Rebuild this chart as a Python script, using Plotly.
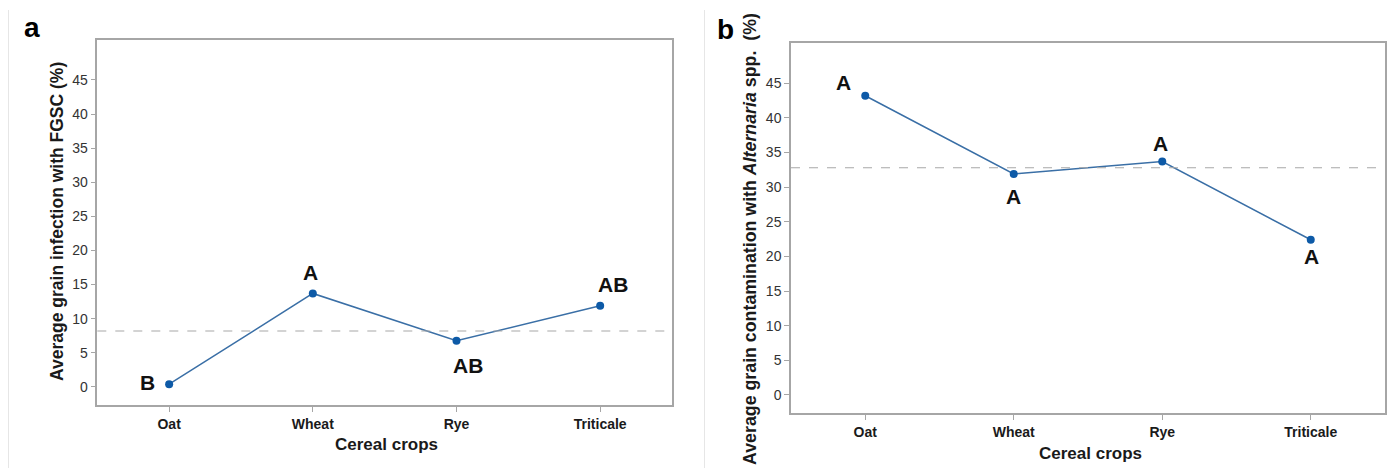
import numpy as np
import plotly.graph_objects as go
from plotly.subplots import make_subplots

crops = ["Oat", "Wheat", "Rye", "Triticale"]
fgsc = [0.4, 13.7, 6.75, 11.9]
fgsc_letters = ["B", "A", "AB", "AB"]
alternaria = [43.2, 31.9, 33.7, 22.4]
alternaria_letters = ["A", "A", "A", "A"]
y_ticks = [0, 5, 10, 15, 20, 25, 30, 35, 40, 45]

W, H = 1391, 468
FONT = "Liberation Sans, Arial, sans-serif"
LINE_C = "#3a6fa6"
MARK_C = "#0d5aa7"
AXIS_C = "#a6a6a6"

fig = make_subplots(rows=1, cols=2)

def px_x(p):
    return p / W

def px_y(p):
    return 1 - p / H

domains = {
    1: dict(x=[px_x(97.3), px_x(672)], y=[px_y(405), px_y(40)]),
    2: dict(x=[px_x(791), px_x(1385)], y=[px_y(413.3), px_y(42.7)]),
}

for col, vals in [(1, fgsc), (2, alternaria)]:
    fig.add_trace(
        go.Scatter(
            x=list(range(len(crops))), y=vals, mode="lines+markers",
            line=dict(color=LINE_C, width=1.5),
            marker=dict(color=MARK_C, size=8),
            showlegend=False, hoverinfo="skip",
        ),
        row=1, col=col,
    )
    # grand mean reference line
    m = float(np.mean(vals))
    xr = "x" if col == 1 else "x2"
    yr = "y" if col == 1 else "y2"
    fig.add_shape(type="line", xref=f"{xr} domain", yref=yr, x0=0, x1=1, y0=m, y1=m,
                  line=dict(color="#a8a8a8", width=1.2, dash="dash"))

axis_common = dict(
    showline=True, linecolor=AXIS_C, linewidth=1.5, mirror=True,
    ticks="outside", tickcolor=AXIS_C, ticklen=5, tickwidth=1,
    showgrid=False, zeroline=False,
)

for col in (1, 2):
    fig.update_xaxes(
        **axis_common,
        domain=domains[col]["x"],
        range=[-0.5, 3.5],
        tickmode="array", tickvals=list(range(len(crops))), ticktext=crops,
        tickfont=dict(family=FONT, size=14, color="#1a1a1a", weight="bold"),
        row=1, col=col,
    )
    fig.update_yaxes(
        **axis_common,
        domain=domains[col]["y"],
        range=[-2.66, 50.86],
        tickmode="array", tickvals=y_ticks,
        tickfont=dict(family=FONT, size=14, color="#333333"),
        row=1, col=col,
    )

annotations = []

# significance letters (offsets in pixels from each data point)
off_a = [(-22, 2), (-2, 21), (12, -25), (13, 21)]
off_b = [(-22, 13), (0, -23), (-2, 18), (1, -17)]
for i, (v, lab) in enumerate(zip(fgsc, fgsc_letters)):
    annotations.append(dict(x=i, y=v, xref="x", yref="y", text=f"<b>{lab}</b>", showarrow=False,
                            xshift=off_a[i][0], yshift=off_a[i][1],
                            font=dict(family=FONT, size=21, color="#111111")))
for i, (v, lab) in enumerate(zip(alternaria, alternaria_letters)):
    annotations.append(dict(x=i, y=v, xref="x2", yref="y2", text=f"<b>{lab}</b>", showarrow=False,
                            xshift=off_b[i][0], yshift=off_b[i][1],
                            font=dict(family=FONT, size=21, color="#111111")))

# panel letters
annotations.append(dict(x=px_x(31.5), y=px_y(27), xref="paper", yref="paper", text="<b>a</b>",
                        showarrow=False, font=dict(family=FONT, size=28, color="#000000"),
                        xanchor="center", yanchor="middle"))
annotations.append(dict(x=px_x(725), y=px_y(29), xref="paper", yref="paper", text="<b>b</b>",
                        showarrow=False, font=dict(family=FONT, size=28, color="#000000"),
                        xanchor="center", yanchor="middle"))

# axis titles
annotations.append(dict(x=px_x(57), y=px_y(222), xref="paper", yref="paper",
                        text="<b>Average grain infection with FGSC (%)</b>", textangle=-90,
                        showarrow=False, font=dict(family=FONT, size=17.5, color="#1a1a1a"),
                        xanchor="center", yanchor="middle"))
annotations.append(dict(x=px_x(750), y=px_y(239), xref="paper", yref="paper",
                        text="<b>Average grain contamination with <i>Alternaria</i> spp.  (%)</b>", textangle=-90,
                        showarrow=False, font=dict(family=FONT, size=17.8, color="#1a1a1a"),
                        xanchor="center", yanchor="middle"))
annotations.append(dict(x=px_x(386), y=px_y(444), xref="paper", yref="paper",
                        text="<b>Cereal crops</b>", showarrow=False,
                        font=dict(family=FONT, size=17, color="#1a1a1a"),
                        xanchor="center", yanchor="middle"))
annotations.append(dict(x=px_x(1090), y=px_y(453), xref="paper", yref="paper",
                        text="<b>Cereal crops</b>", showarrow=False,
                        font=dict(family=FONT, size=17, color="#1a1a1a"),
                        xanchor="center", yanchor="middle"))

shapes_extra = [
    dict(type="line", xref="paper", yref="paper", x0=px_x(8.5), x1=px_x(8.5), y0=0, y1=px_y(10),
         line=dict(color="#e6e6e6", width=1)),
    dict(type="line", xref="paper", yref="paper", x0=px_x(704.5), x1=px_x(704.5), y0=0, y1=px_y(10),
         line=dict(color="#e6e6e6", width=1)),
]
for s in shapes_extra:
    fig.add_shape(**s)

fig.update_layout(
    width=W, height=H,
    margin=dict(l=0, r=0, t=0, b=0),
    paper_bgcolor="white", plot_bgcolor="white",
    annotations=annotations,
    font=dict(family=FONT),
)

fig.write_html(
    "out.html",
    config={"displayModeBar": False},
    post_script="document.body.style.margin='0';document.body.style.overflow='hidden';",
)
